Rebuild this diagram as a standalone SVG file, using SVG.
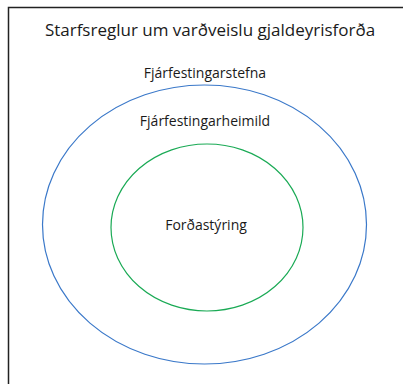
<svg xmlns="http://www.w3.org/2000/svg" width="403" height="384" viewBox="0 0 403 384">
<style>
text{font-family:"Open Sans","Liberation Sans",sans-serif;fill:#1a1a1a;text-anchor:middle}
.t{font-size:17px}
.l{font-size:14px}
</style>
<rect width="403" height="384" fill="#fff"/>
<g id="frame"><path d="M8.5,384 V7.5 H403" fill="none" stroke="#222" stroke-width="1.5"/></g>
<text class="t" x="210" y="36">Starfsreglur um varðveislu gjaldeyrisforða</text>
<g id="outer">
<ellipse cx="204.5" cy="224.5" rx="162" ry="139.5" fill="none" stroke="#3a78c9" stroke-width="1.2"/>
<text class="l" x="205" y="78">Fjárfestingarstefna</text>
</g>
<g id="middle">
<text class="l" x="205" y="126">Fjárfestingarheimild</text>
</g>
<g id="inner">
<ellipse cx="207" cy="227.5" rx="96" ry="83.5" fill="none" stroke="#1aaa55" stroke-width="1.2"/>
<text class="l" x="206" y="230">Forðastýring</text>
</g>
<g id="connectors"/>
</svg>
